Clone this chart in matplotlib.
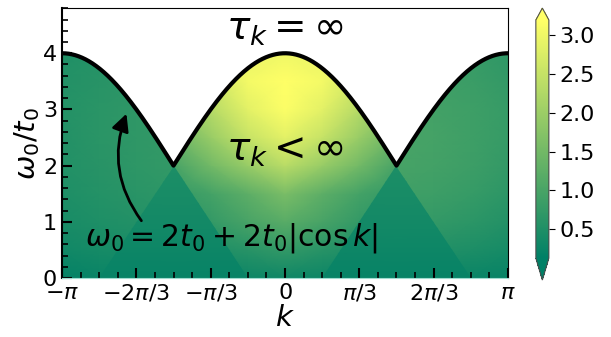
import numpy as np
import matplotlib.pyplot as plt
from matplotlib.patches import Polygon
from matplotlib.colors import Normalize

pi = np.pi

# grid of frequencies (omega_0 / t_0) where tau_k was sampled
w_nodes = [0.0, 0.5, 1.0, 1.5, 2.0, 2.5, 3.0, 3.5, 4.0]

# momentum nodes for the three regions under the band edge
k_left = [-pi, -5 * pi / 6, -2 * pi / 3, -pi / 2]
k_mid = [-pi / 2, -pi / 3, -pi / 6, 0.0, pi / 6, pi / 3, pi / 2]
k_right = [pi / 2, 2 * pi / 3, 5 * pi / 6, pi]

# tau_k values, rows follow w_nodes
tau_left = [
    [0.20, 0.24, 0.28, 0.32],
    [0.34, 0.40, 0.44, 0.48],
    [0.44, 0.50, 0.55, 0.60],
    [0.50, 0.57, 0.63, 0.68],
    [0.54, 0.62, 0.68, 0.74],
    [0.56, 0.64, 0.70, 0.76],
    [0.57, 0.64, 0.70, 0.76],
    [0.55, 0.62, 0.68, 0.74],
    [0.52, 0.58, 0.64, 0.70],
]
tau_mid = [
    [0.25, 0.25, 0.28, 0.32, 0.28, 0.25, 0.25],
    [0.45, 0.50, 0.62, 0.75, 0.62, 0.50, 0.45],
    [0.60, 0.75, 1.00, 1.20, 1.00, 0.75, 0.60],
    [0.75, 0.95, 1.25, 1.60, 1.25, 0.95, 0.75],
    [1.00, 1.50, 1.95, 2.35, 1.95, 1.50, 1.00],
    [1.40, 1.95, 2.50, 2.85, 2.50, 1.95, 1.40],
    [1.80, 2.30, 2.85, 3.15, 2.85, 2.30, 1.80],
    [2.20, 2.60, 3.05, 3.20, 3.05, 2.60, 2.20],
    [2.40, 2.70, 2.95, 3.00, 2.95, 2.70, 2.40],
]
tau_right = [
    [0.34, 0.30, 0.26, 0.22],
    [0.58, 0.54, 0.48, 0.40],
    [0.78, 0.74, 0.66, 0.55],
    [0.90, 0.86, 0.78, 0.66],
    [0.98, 0.94, 0.86, 0.74],
    [1.00, 0.96, 0.88, 0.78],
    [0.98, 0.94, 0.88, 0.78],
    [0.94, 0.90, 0.84, 0.74],
    [0.90, 0.86, 0.80, 0.70],
]

# darker triangles below the band minimum
w_tri = [0.0, 0.5, 1.0, 1.5, 2.0]
tau_tri = [0.22, 0.29, 0.36, 0.42, 0.48]

xticks = [-pi, -2 * pi / 3, -pi / 3, 0, pi / 3, 2 * pi / 3, pi]
xticklabels = [r'$-\pi$', r'$-2\pi/3$', r'$-\pi/3$', r'$0$', r'$\pi/3$', r'$2\pi/3$', r'$\pi$']
cbar_ticks = [0.5, 1.0, 1.5, 2.0, 2.5, 3.0]

cmap = 'summer'
norm = Normalize(vmin=0.13, vmax=3.19)

fig = plt.figure(figsize=(6.11, 3.37), dpi=100)
ax = fig.add_axes([0.1015, 0.175, 0.7299, 0.8004])
cax = fig.add_axes([0.877, 0.169, 0.0213, 0.807])

# band edge omega_0 = 2 t0 + 2 t0 |cos k|
k_curve = np.linspace(-pi, pi, 1201)
w_curve = 2 + 2 * np.abs(np.cos(k_curve))


def region_under_curve(k0, k1):
    sel = (k_curve >= k0 - 1e-9) & (k_curve <= k1 + 1e-9)
    top = list(zip(k_curve[sel], w_curve[sel]))[::-1]
    return [(k0, 0.0), (k1, 0.0)] + top


def draw_field(ks, vals, clip):
    K, W = np.meshgrid(ks, w_nodes)
    m = ax.pcolormesh(K, W, np.array(vals), shading='gouraud', cmap=cmap, norm=norm)
    m.set_clip_path(Polygon(clip, closed=True, transform=ax.transData))
    return m


mesh = draw_field(k_mid, tau_mid, region_under_curve(-pi / 2, pi / 2))
draw_field(k_left, tau_left, region_under_curve(-pi, -pi / 2))
draw_field(k_right, tau_right, region_under_curve(pi / 2, pi))

for kc in (-pi / 2, pi / 2):
    K, W = np.meshgrid([kc - pi / 3, kc + pi / 3], w_tri)
    C = np.column_stack([tau_tri, tau_tri])
    tri = ax.pcolormesh(K, W, C, shading='gouraud', cmap=cmap, norm=norm)
    tri.set_clip_path(Polygon([(kc - pi / 3, 0), (kc + pi / 3, 0), (kc, 2)],
                              closed=True, transform=ax.transData))

ax.plot(k_curve, w_curve, color='k', lw=3, solid_capstyle='round')

ax.annotate('', xy=(-2.22, 2.97), xytext=(-2.0, 0.98),
            arrowprops=dict(arrowstyle='-|>', connectionstyle='arc3,rad=-0.28',
                            color='k', lw=2, mutation_scale=26))

ax.text(0, 4.43, r'$\tau_k = \infty$', fontsize=28, ha='center', va='center')
ax.text(0, 2.28, r'$\tau_k < \infty$', fontsize=28, ha='center', va='center')
ax.text(-0.76, 0.72, r'$\omega_0 = 2t_0 + 2t_0|\cos k|$', fontsize=21.5,
        ha='center', va='center')

ax.set_xlim(-pi, pi)
ax.set_ylim(0, 4.8)
ax.set_xticks(xticks)
ax.set_xticklabels(xticklabels)
ax.set_xticks(np.arange(-12, 13) * pi / 12, minor=True)
ax.set_yticks([0, 1, 2, 3, 4])
ax.set_yticks(np.arange(0, 25) * 0.2, minor=True)
ax.tick_params(which='both', direction='in', top=False, right=False,
               labelsize=16, width=1.5)
ax.tick_params(which='major', length=7)
ax.tick_params(which='minor', length=4, width=1.2)
ax.set_xlabel(r'$k$', fontsize=21, labelpad=0)
ax.set_ylabel(r'$\omega_0/t_0$', fontsize=21, labelpad=1)
ax.spines['left'].set_linewidth(1.5)
ax.spines['bottom'].set_color('#9fdccf')

cb = fig.colorbar(mesh, cax=cax, extend='both', extendfrac=[0.092, 0.05])
cb.set_ticks(cbar_ticks)
cb.ax.tick_params(labelsize=16, length=4)
cb.outline.set_linewidth(0.8)
cb.outline.set_edgecolor('0.3')

fig.savefig('out.png', dpi=100)
